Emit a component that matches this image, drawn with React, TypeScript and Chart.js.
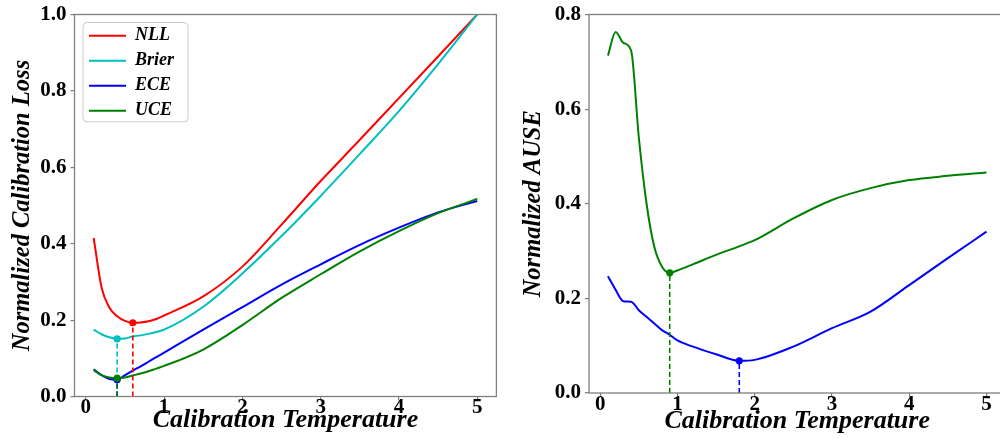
import React, { useEffect, useRef } from 'react';
import { Chart, registerables } from 'chart.js';

Chart.register(...registerables);

const FONT = "'Liberation Serif', 'Times New Roman', Times, serif";

// ---------- data ----------
const seriesNames = ['NLL', 'Brier', 'ECE', 'UCE'];
const seriesColors = ['#ff0000', '#00bfbf', '#0000ff', '#008000'];

// Left panel: normalized calibration loss vs temperature
const tempsLoss = [0.1, 0.2, 0.3, 0.4, 0.5, 0.6, 0.7, 0.8, 0.9, 1.0, 1.5, 2.0, 2.5, 3.0, 3.5, 4.0, 4.5, 5.0];
const nllLoss = [0.415, 0.286, 0.233, 0.21, 0.198, 0.193, 0.194, 0.197, 0.203, 0.212, 0.262, 0.34, 0.45, 0.564, 0.672, 0.781, 0.89, 1.0];
const brierLoss = [0.175, 0.163, 0.155, 0.151, 0.152, 0.157, 0.16, 0.164, 0.169, 0.175, 0.235, 0.322, 0.42, 0.525, 0.635, 0.747, 0.87, 1.0];
const eceLoss = [0.071, 0.056, 0.046, 0.044, 0.056, 0.068, 0.079, 0.091, 0.103, 0.115, 0.175, 0.234, 0.293, 0.346, 0.397, 0.442, 0.482, 0.512];
const uceLoss = [0.069, 0.056, 0.05, 0.048, 0.05, 0.055, 0.06, 0.066, 0.073, 0.08, 0.123, 0.187, 0.258, 0.32, 0.38, 0.433, 0.48, 0.517];

// Right panel: normalized AUSE vs temperature
const tempsAuse = [0.1, 0.2, 0.3, 0.4, 0.5, 0.6, 0.7, 0.8, 0.9, 1.0, 1.2, 1.5, 1.8, 2.0, 2.5, 3.0, 3.5, 4.0, 4.5, 5.0];
const eceAuse = [0.247, 0.218, 0.194, 0.193, 0.175, 0.161, 0.147, 0.133, 0.123, 0.111, 0.098, 0.082, 0.068, 0.07, 0.098, 0.137, 0.172, 0.228, 0.285, 0.341];
const uceAuse = [0.713, 0.763, 0.74, 0.724, 0.54, 0.4, 0.309, 0.267, 0.254, 0.259, 0.272, 0.292, 0.31, 0.323, 0.369, 0.408, 0.433, 0.45, 0.459, 0.466];

const xTickValues = [0, 1, 2, 3, 4, 5];
const lossTickValues = [0, 0.2, 0.4, 0.6, 0.8, 1.0];
const auseTickValues = [0, 0.2, 0.4, 0.6, 0.8];

// ---------- helpers ----------
const toPoints = (xs: number[], ys: number[]) => xs.map((x, i) => ({ x, y: ys[i] }));
const minPoint = (xs: number[], ys: number[]) => {
  let k = 0;
  ys.forEach((v, i) => { if (v < ys[k]) k = i; });
  return { x: xs[k], y: ys[k] };
};

function curve(label: string, color: string, xs: number[], ys: number[], order: number) {
  return {
    label,
    data: toPoints(xs, ys),
    borderColor: color,
    backgroundColor: color,
    borderWidth: 2,
    pointRadius: 0,
    pointHoverRadius: 0,
    cubicInterpolationMode: 'monotone',
    fill: false,
    order,
  };
}

function minMarker(color: string, xs: number[], ys: number[]) {
  const m = minPoint(xs, ys);
  return {
    label: '',
    data: [{ x: m.x, y: 0 }, { x: m.x, y: m.y }],
    borderColor: color,
    backgroundColor: color,
    borderWidth: 1.6,
    borderDash: [5, 3],
    pointRadius: [0, 3.6],
    pointBorderWidth: 0,
    pointHoverRadius: 0,
    tension: 0,
    cubicInterpolationMode: 'default',
    fill: false,
    order: 0,
  };
}

const frameBox = {
  id: 'frameBox',
  afterDatasetsDraw(chart: any) {
    const { ctx, chartArea } = chart;
    const { left, top, right, bottom } = chartArea;
    ctx.save();
    ctx.strokeStyle = '#7f7f7f';
    ctx.lineWidth = 1.3;
    ctx.strokeRect(left, top, right - left, bottom - top);
    ctx.restore();
  },
};

const legendBox = {
  id: 'legendBox',
  afterLayout(chart: any) {
    const lg = chart.legend;
    if (!lg) return;
    const ca = chart.chartArea;
    lg.left = ca.left + 7.5;
    lg.top = ca.top + 5.3;
    lg.right = lg.left + lg.width;
    lg.bottom = ca.bottom;
  },
  beforeDraw(chart: any) {
    const lg = chart.legend;
    if (!lg || !lg.legendItems || !lg.legendItems.length) return;
    const { ctx } = chart;
    const size = 18;
    const pad = lg.options.labels.padding;
    ctx.save();
    ctx.font = `italic bold ${size}px ${FONT}`;
    const maxText = Math.max(...lg.legendItems.map((it: any) => ctx.measureText(it.text).width));
    const n = lg.legendItems.length;
    const x0 = lg.left + 1;
    const y0 = lg.top + 2.7;
    const x1 = lg.left + pad + 37 + size / 2 + maxText + 14;
    const y1 = lg.top + pad + n * size + (n - 1) * pad + 2;
    ctx.beginPath();
    if (ctx.roundRect) ctx.roundRect(x0, y0, x1 - x0, y1 - y0, 4);
    else ctx.rect(x0, y0, x1 - x0, y1 - y0);
    ctx.fillStyle = '#ffffff';
    ctx.fill();
    ctx.strokeStyle = '#cccccc';
    ctx.lineWidth = 1;
    ctx.stroke();
    ctx.restore();
  },
};

interface AxisSpec {
  yMax: number;
  yTicks: number[];
  yTitle: string;
  yAxisWidth: number;
  xAxisHeight: number;
  yTitlePad: number;
  xTitlePad: number;
}

function buildScales(s: AxisSpec) {
  const tickGrid = {
    display: true,
    drawOnChartArea: false,
    drawTicks: true,
    tickLength: 4,
    color: '#7f7f7f',
    lineWidth: 1.2,
  };
  return {
    x: {
      type: 'linear',
      min: -0.145,
      max: 5.245,
      afterFit: (sc: any) => { sc.height = s.xAxisHeight; },
      afterBuildTicks: (sc: any) => { sc.ticks = xTickValues.map((v) => ({ value: v })); },
      border: { display: false },
      grid: tickGrid,
      ticks: {
        autoSkip: false,
        maxRotation: 0,
        padding: -3,
        color: '#000',
        font: { family: FONT, size: 21, weight: 'bold', lineHeight: 1 },
        callback: (v: any) => String(v),
      },
      title: {
        display: true,
        text: 'Calibration Temperature',
        color: '#000',
        font: { family: FONT, size: 26, weight: 'bold', style: 'italic', lineHeight: 1.2 },
        padding: { top: 0, bottom: s.xTitlePad },
      },
    },
    y: {
      type: 'linear',
      min: 0,
      max: s.yMax,
      afterFit: (sc: any) => { sc.width = s.yAxisWidth; },
      afterBuildTicks: (sc: any) => { sc.ticks = s.yTicks.map((v) => ({ value: v })); },
      border: { display: false },
      grid: tickGrid,
      ticks: {
        padding: 4,
        color: '#000',
        font: { family: FONT, size: 21, weight: 'bold', lineHeight: 1 },
        callback: (v: any) => Number(v).toFixed(1),
      },
      title: {
        display: true,
        text: s.yTitle,
        color: '#000',
        font: { family: FONT, size: 24.5, weight: 'bold', style: 'italic', lineHeight: 1.2 },
        padding: { top: s.yTitlePad, bottom: 0 },
      },
    },
  };
}

export default function App() {
  const leftRef = useRef<HTMLCanvasElement>(null);
  const rightRef = useRef<HTMLCanvasElement>(null);

  useEffect(() => {
    const lossSeries = [nllLoss, brierLoss, eceLoss, uceLoss];

    const leftChart = new Chart(leftRef.current as HTMLCanvasElement, {
      type: 'line',
      data: {
        datasets: [
          minMarker(seriesColors[3], tempsLoss, uceLoss),
          minMarker(seriesColors[2], tempsLoss, eceLoss),
          minMarker(seriesColors[1], tempsLoss, brierLoss),
          minMarker(seriesColors[0], tempsLoss, nllLoss),
          curve(seriesNames[3], seriesColors[3], tempsLoss, lossSeries[3], 1),
          curve(seriesNames[2], seriesColors[2], tempsLoss, lossSeries[2], 2),
          curve(seriesNames[1], seriesColors[1], tempsLoss, lossSeries[1], 3),
          curve(seriesNames[0], seriesColors[0], tempsLoss, lossSeries[0], 4),
        ] as any,
      },
      options: {
        responsive: false,
        animation: false,
        events: [],
        layout: { padding: { left: 0, right: 3, top: 13, bottom: 0 } },
        plugins: {
          tooltip: { enabled: false },
          legend: {
            display: true,
            position: 'chartArea',
            align: 'start',
            labels: {
              usePointStyle: true,
              pointStyle: 'line',
              pointStyleWidth: 37,
              boxHeight: 18,
              padding: 7,
              color: '#000',
              font: { family: FONT, size: 18, weight: 'bold', style: 'italic' },
              filter: (item: any) => seriesNames.includes(item.text),
              sort: (a: any, b: any) => seriesNames.indexOf(a.text) - seriesNames.indexOf(b.text),
            },
          },
        },
        scales: buildScales({
          yMax: 1.0,
          yTicks: lossTickValues,
          yTitle: 'Normalized Calibration Loss',
          yAxisWidth: 74.5,
          xAxisHeight: 45.5,
          yTitlePad: 8.3,
          xTitlePad: 6.4,
        }),
      } as any,
      plugins: [frameBox, legendBox],
    });

    const rightChart = new Chart(rightRef.current as HTMLCanvasElement, {
      type: 'line',
      data: {
        datasets: [
          minMarker(seriesColors[3], tempsAuse, uceAuse),
          minMarker(seriesColors[2], tempsAuse, eceAuse),
          curve(seriesNames[3], seriesColors[3], tempsAuse, uceAuse, 1),
          curve(seriesNames[2], seriesColors[2], tempsAuse, eceAuse, 2),
        ] as any,
      },
      options: {
        responsive: false,
        animation: false,
        events: [],
        layout: { padding: { left: 0, right: 3, top: 14.5, bottom: 0 } },
        plugins: {
          tooltip: { enabled: false },
          legend: { display: false },
        },
        scales: buildScales({
          yMax: 0.8,
          yTicks: auseTickValues,
          yTitle: 'Normalized AUSE',
          yAxisWidth: 89,
          xAxisHeight: 49,
          yTitlePad: 19.3,
          xTitlePad: 5.4,
        }),
      } as any,
      plugins: [frameBox],
    });

    return () => {
      leftChart.destroy();
      rightChart.destroy();
    };
  }, []);

  return (
    <div
      style={{
        position: 'absolute',
        left: 0,
        top: 0,
        width: 1000,
        height: 442,
        overflow: 'hidden',
        background: '#ffffff',
      }}
    >
      <canvas ref={leftRef} width={500} height={442} style={{ position: 'absolute', left: 0, top: 0 }} />
      <canvas ref={rightRef} width={509} height={442} style={{ position: 'absolute', left: 500, top: 0 }} />
    </div>
  );
}
